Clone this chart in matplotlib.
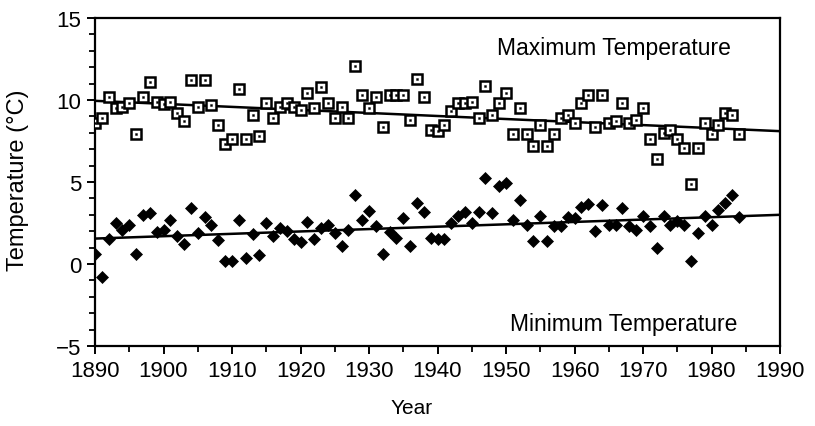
import matplotlib
matplotlib.use("Agg")
import matplotlib.pyplot as plt
import numpy as np
from matplotlib.ticker import MultipleLocator

plt.rcParams['font.family'] = ['Liberation Sans', 'DejaVu Sans']

years = list(range(1890, 1985))

max_temp = [8.6, 8.9, 10.2, 9.5, 9.6, 9.8, 7.9, 10.2, 11.1, 9.9,
            9.75, 9.9, 9.2, 8.7, 11.2, 9.6, 11.2, 9.7, 8.5, 7.3,
            7.6, 10.65, 7.6, 9.1, 7.8, 9.8, 8.9, 9.6, 9.8, 9.6,
            9.4, 10.45, 9.5, 10.8, 9.8, 8.9, 9.6, 8.9, 12.1, 10.3,
            9.5, 10.2, 8.35, 10.3, 10.3, 10.3, 8.8, 11.3, 10.2, 8.2,
            8.1, 8.5, 9.3, 9.8, 9.8, 9.9, 8.9, 10.85, 9.1, 9.8,
            10.45, 7.9, 9.5, 7.9, 7.2, 8.5, 7.2, 7.9, 8.9, 9.1,
            8.6, 9.8, 10.3, 8.35, 10.3, 8.6, 8.75, 9.8, 8.6, 8.8,
            9.5, 7.6, 6.4, 8.0, 8.2, 7.6, 7.1, 4.85, 7.1, 8.6,
            7.9, 8.5, 9.2, 9.1, 7.9]

min_temp = [0.6, -0.8, 1.5, 2.5, 2.1, 2.4, 0.6, 3.0, 3.1, 1.95,
            2.1, 2.7, 1.7, 1.2, 3.4, 1.9, 2.85, 2.4, 1.45, 0.2,
            0.2, 2.7, 0.35, 1.85, 0.55, 2.5, 1.7, 2.2, 2.0, 1.5,
            1.35, 2.55, 1.5, 2.2, 2.4, 1.9, 1.1, 2.1, 4.2, 2.7,
            3.25, 2.3, 0.6, 1.95, 1.6, 2.8, 1.1, 3.7, 3.2, 1.6,
            1.5, 1.5, 2.5, 2.95, 3.2, 2.5, 3.2, 5.25, 3.1, 4.75,
            4.95, 2.7, 3.9, 2.4, 1.4, 2.95, 1.4, 2.3, 2.3, 2.85,
            2.8, 3.5, 3.65, 2.0, 3.6, 2.4, 2.4, 3.4, 2.3, 2.1,
            2.9, 2.3, 0.95, 2.9, 2.4, 2.6, 2.4, 0.2, 1.9, 2.9,
            2.4, 3.3, 3.7, 4.2, 2.85]

trend_years = [1890, 1990]
max_trend = [9.95, 8.1]
min_trend = [1.55, 3.0]

fig = plt.figure(figsize=(8.15, 4.27), dpi=100)
ax = fig.add_axes([95/815, 1 - 347/427, (780-95)/815, (347-19)/427])

ax.plot(trend_years, max_trend, color='black', lw=1.8, zorder=2)
ax.plot(trend_years, min_trend, color='black', lw=1.8, zorder=2)

ax.plot(years, max_temp, ls='none', marker='s', ms=7.2, mfc='white',
        mec='black', mew=1.8, zorder=3)
ax.plot(years, max_temp, ls='none', marker='s', ms=1.4, mfc='black',
        mec='black', mew=0.3, zorder=4)
ax.plot(years, min_temp, ls='none', marker='D', ms=6.5, mfc='black',
        mec='black', mew=0.5, zorder=3)

ax.set_xlim(1890, 1990)
ax.set_ylim(-5, 15)
ax.xaxis.set_major_locator(MultipleLocator(10))
ax.xaxis.set_minor_locator(MultipleLocator(5))
ax.yaxis.set_major_locator(MultipleLocator(5))
ax.yaxis.set_minor_locator(MultipleLocator(1))
ax.tick_params(axis='both', which='major', direction='out', length=6,
               width=1.4, labelsize=16, pad=4)
ax.tick_params(axis='both', which='minor', direction='out', length=4,
               width=1.3)
ax.set_yticks([-5, 0, 5, 10, 15])
ax.set_yticklabels(['\u22125', '0', '5', '10', '15'])
for s in ax.spines.values():
    s.set_linewidth(1.6)

ax.set_xlabel('Year', fontsize=15)
ax.set_ylabel('Temperature (\u00b0C)', fontsize=17)
ax.xaxis.label.set_va('center')
ax.yaxis.label.set_va('center')
ax.xaxis.set_label_coords((412-95)/685, (347-409)/328)
ax.yaxis.set_label_coords((18-95)/685, (347-180)/328)

ax.text(1965.8, 13.2, 'Maximum Temperature', fontsize=16.5, ha='center', va='center')
ax.text(1967.2, -3.65, 'Minimum Temperature', fontsize=16.5, ha='center', va='center')

fig.savefig('out.png', dpi=100)
